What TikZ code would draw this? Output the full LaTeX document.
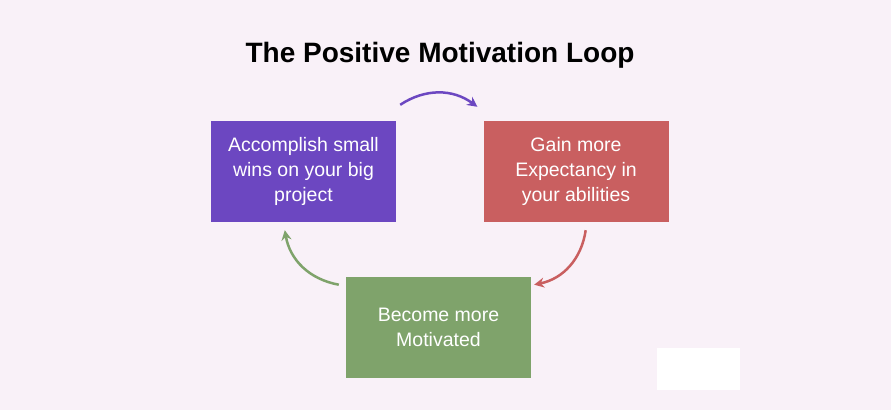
\documentclass[tikz,border=0pt]{standalone}
\usepackage{fontspec}
\setmainfont{Liberation Sans}
\usetikzlibrary{positioning, arrows.meta}
\definecolor{bgpink}{HTML}{F9F1F8}
\definecolor{winpurple}{HTML}{6C47C1}
\definecolor{gainred}{HTML}{C95F60}
\definecolor{motgreen}{HTML}{7FA36B}

\begin{document}
\begin{tikzpicture}[x=1pt, y=-1pt]
    % styles
    \tikzstyle{cell} = [rectangle, minimum width=185pt, minimum height=101pt, align=center, text=white, font=\fontsize{19.5}{25}\selectfont]
    \tikzstyle{arrow} = [line width=2.5pt, -{Stealth[length=10pt, width=10pt]}]

    \fill[bgpink] (0,0) rectangle (891,410);
    \fill[white] (657,348) rectangle (740,390);

    % title
    \node (title) at (440,55) {\fontsize{28}{32}\selectfont\bfseries The Positive Motivation Loop};

    % steps
    \node (wins) [cell, fill=winpurple] at (303.5,171.5) {Accomplish small\\wins on your big\\project};
    \node (gain) [cell, fill=gainred] at (576,171.5) {Gain more\\Expectancy in\\your abilities};
    \node (motivated) [cell, fill=motgreen] at (438.5,327) {Become more\\Motivated};

    % loop
    \draw [arrow, draw=winpurple] ([xshift=4pt,yshift=16pt]wins.north east) to[bend left=35] ([xshift=-6pt,yshift=14pt]gain.north west);
    \draw [arrow, draw=gainred] ([xshift=-83pt,yshift=-8pt]gain.south east) to[bend left=35] ([xshift=3pt,yshift=93pt]motivated.south east);
    \draw [arrow, draw=motgreen] ([xshift=-7pt,yshift=93pt]motivated.south west) to[bend left=35] ([xshift=74pt,yshift=-8pt]wins.south west);
\end{tikzpicture}
\end{document}
